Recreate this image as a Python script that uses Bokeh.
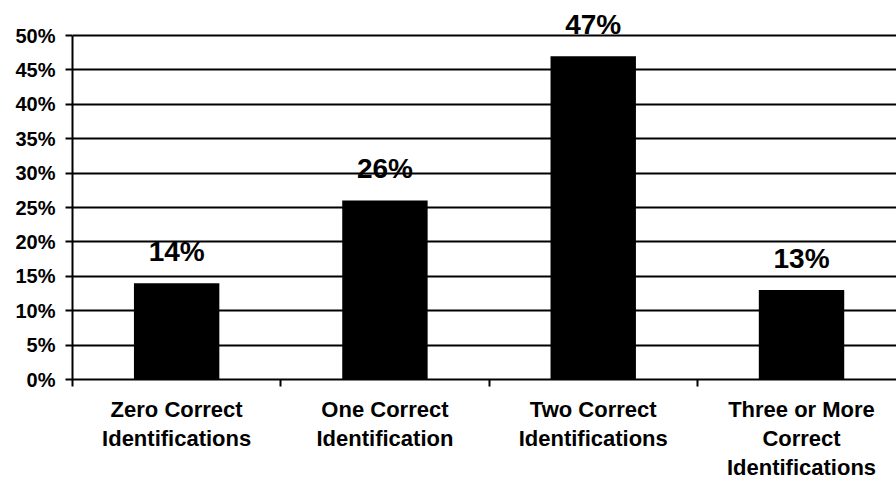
from bokeh.plotting import figure
from bokeh.models import ColumnDataSource, FixedTicker, Range1d
from bokeh.core.properties import value
from bokeh.embed import file_html
from bokeh.resources import INLINE

# Share of respondents by number of correct identifications
categories = ["Zero Correct\nIdentifications", "One Correct\nIdentification",
              "Two Correct\nIdentifications", "Three or More\nCorrect\nIdentifications"]
percents = [14, 26, 47, 13]
y_ticks = [0, 5, 10, 15, 20, 25, 30, 35, 40, 45, 50]
y_tick_labels = ["0%", "5%", "10%", "15%", "20%", "25%", "30%", "35%", "40%", "45%", "50%"]

FONT = "Liberation Sans"
PX_PER_PCT = 6.88          # vertical scale of the value axis
TICK_LEN = 7               # length of the boundary ticks under the baseline

n = len(categories)
centers = [i + 0.5 for i in range(n)]
boundaries = list(range(n))

source = ColumnDataSource(dict(
    x=centers,
    top=percents,
    label=[f"{v}%" for v in percents],
    name=categories,
))

# the frame fills the whole canvas; the space under 0% holds the category names
p = figure(width=896, height=480, output_backend="svg", toolbar_location=None,
           x_range=Range1d(0, 3.956),
           y_range=Range1d(-101 / PX_PER_PCT, 50 + 35 / PX_PER_PCT),
           x_axis_location=None,
           min_border_left=72, min_border_right=0, min_border_top=0,
           min_border_bottom=0)
p.outline_line_color = None
p.background_fill_color = "white"
p.border_fill_color = "white"

p.vbar(x="x", top="top", width=0.41, bottom=0, source=source,
       fill_color="black", line_color=None)

# value labels above the bars
p.text(x="x", y="top", text="label", source=source,
       text_font=value(FONT), text_font_style="bold", text_font_size="28px",
       text_align="center", text_baseline="alphabetic", y_offset=-32,
       text_color="black")

# category names under the baseline
p.text(x="x", y=0, text="name", source=source,
       text_font=value(FONT), text_font_style="bold", text_font_size="22px",
       text_align="center", text_baseline="top", text_line_height=1.17,
       y_offset=17, text_color="black")

# horizontal grid (0% line doubles as the category baseline)
p.ygrid.ticker = FixedTicker(ticks=y_ticks)
p.ygrid.grid_line_color = "black"
p.ygrid.grid_line_width = 2
p.ygrid.bounds = (0, 50)

# short boundary ticks between categories, hanging under the baseline
p.xgrid.ticker = FixedTicker(ticks=boundaries)
p.xgrid.grid_line_color = "black"
p.xgrid.grid_line_width = 2
p.xgrid.cross_bounds = (-TICK_LEN / PX_PER_PCT, 0)

# y axis
ya = p.yaxis[0]
ya.ticker = FixedTicker(ticks=y_ticks)
ya.major_label_overrides = {t: s for t, s in zip(y_ticks, y_tick_labels)}
ya.bounds = (-TICK_LEN / PX_PER_PCT, 50)
ya.axis_line_width = 2
ya.axis_line_color = "black"
ya.major_tick_line_width = 2
ya.major_tick_line_color = "black"
ya.major_tick_out = 7
ya.major_tick_in = 0
ya.minor_tick_line_color = None
ya.major_label_standoff = 10
ya.major_label_text_font = FONT
ya.major_label_text_font_style = "bold"
ya.major_label_text_font_size = "20px"
ya.major_label_text_color = "black"

open("out.html", "w").write(file_html(p, INLINE))
